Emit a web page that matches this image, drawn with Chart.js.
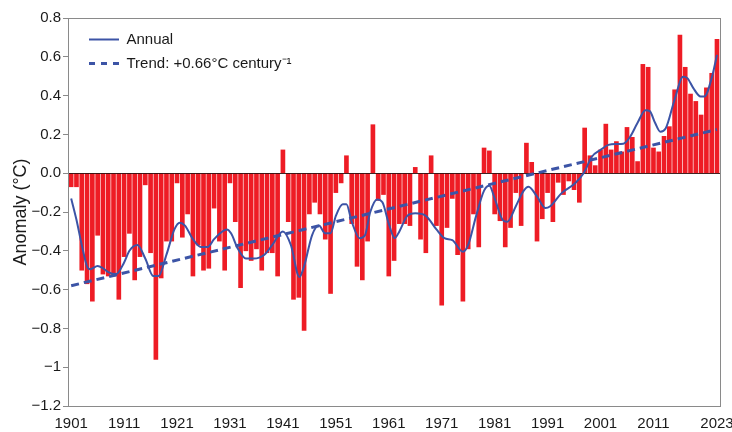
<!DOCTYPE html>
<html>
<head>
<meta charset="utf-8">
<title>Annual temperature anomaly, 1901–2023</title>
<script src="https://cdn.jsdelivr.net/npm/chart.js@4.4.1/dist/chart.umd.min.js"></script>
<style>
  html, body { margin: 0; padding: 0; background: #ffffff; }
  #wrap { width: 732px; height: 432px; }
</style>
</head>
<body>
<div id="wrap"><canvas id="chart" width="732" height="432"></canvas></div>
<script>
// Yearly anomalies (°C), one value per year starting in FIRST_YEAR
const FIRST_YEAR = 1901;
const anomaly = [
  -0.07, -0.07, -0.50, -0.57, -0.66, -0.32, -0.52, -0.53, -0.53, -0.65,  // 1901-1910
  -0.43, -0.31, -0.55, -0.43, -0.06, -0.41, -0.96, -0.54, -0.35, -0.35,  // 1911-1920
  -0.05, -0.33, -0.21, -0.53, -0.37, -0.50, -0.49, -0.18, -0.35, -0.50,  // 1921-1930
  -0.05, -0.25, -0.59, -0.40, -0.45, -0.39, -0.50, -0.41, -0.41, -0.53,  // 1931-1940
   0.12, -0.25, -0.65, -0.64, -0.81, -0.21, -0.15, -0.21, -0.34, -0.62,  // 1941-1950
  -0.10, -0.05,  0.09, -0.26, -0.48, -0.55, -0.35,  0.25, -0.14, -0.11,  // 1951-1960
  -0.53, -0.45, -0.26, -0.26, -0.27,  0.03, -0.34, -0.41,  0.09, -0.27,  // 1961-1970
  -0.68, -0.28, -0.13, -0.42, -0.66, -0.39, -0.21, -0.38,  0.13,  0.115, // 1971-1980
  -0.21, -0.245,-0.38, -0.28, -0.10, -0.27,  0.155, 0.056,-0.35, -0.235, // 1981-1990
  -0.10, -0.25, -0.047,-0.11, -0.04, -0.085,-0.15,  0.233, 0.09,  0.039, // 1991-2000
   0.12,  0.253, 0.12,  0.163, 0.11,  0.236, 0.185, 0.06,  0.561, 0.546, // 2001-2010
   0.13,  0.11,  0.19,  0.24,  0.43,  0.712, 0.546, 0.408, 0.37,  0.30,  // 2011-2020
   0.44,  0.515, 0.69                                                    // 2021-2023
];
const years = anomaly.map((_, i) => FIRST_YEAR + i);

// Smoothed annual curve, sampled at its turning points and shoulders
const annualYears = [
  1901, 1902, 1903, 1904, 1904.6, 1906, 1907, 1908, 1909.5, 1911, 1912, 1913.5,
  1915, 1916.5, 1917.5, 1919, 1920.5, 1921.5, 1922.5, 1924, 1925.5, 1926.8,
  1928, 1930.4, 1931.2, 1932.5, 1934, 1935.5, 1937.5, 1939, 1941, 1942.5,
  1944.1, 1945, 1946.5, 1947.8, 1949, 1950, 1951, 1952.3, 1953, 1954, 1955.5,
  1956.5, 1957.5, 1958.8, 1959.8, 1961, 1962.1, 1963, 1964.5, 1966, 1968,
  1970, 1971.5, 1973, 1975, 1976, 1977.5, 1979, 1980, 1981, 1982.5, 1983.4,
  1985, 1986.5, 1987.4, 1989, 1990.6, 1991.5, 1993.6, 1996.2, 1997.8, 1999.4,
  2001, 2002.5, 2004, 2005.3, 2006.6, 2008, 2009.5, 2010.3, 2011.3, 2012.3,
  2013.3, 2015, 2016.6, 2017.4, 2018.5, 2019.9, 2020.6, 2022, 2023
];
const annualValues = [
  -0.13, -0.24, -0.37, -0.48, -0.495, -0.478, -0.49, -0.51, -0.52, -0.46, -0.40, -0.37,
  -0.44, -0.53, -0.53, -0.42, -0.29, -0.255, -0.27, -0.34, -0.38, -0.38,
  -0.34, -0.29, -0.31, -0.39, -0.44, -0.44, -0.42, -0.37, -0.30, -0.37,
  -0.535, -0.48, -0.32, -0.27, -0.31, -0.31, -0.22, -0.16, -0.16, -0.25, -0.335,
  -0.32, -0.20, -0.135, -0.15, -0.26, -0.335, -0.30, -0.22, -0.207, -0.22,
  -0.29, -0.335, -0.345, -0.405, -0.37, -0.22, -0.09, -0.065, -0.13, -0.24, -0.25,
  -0.17, -0.09, -0.07, -0.12, -0.18, -0.17, -0.104, -0.052, 0.0, 0.086,
  0.12, 0.146, 0.15, 0.152, 0.188, 0.26, 0.325, 0.32, 0.26, 0.214,
  0.23, 0.38, 0.497, 0.49, 0.44, 0.395, 0.395, 0.49, 0.61
];

// Linear trend: value at its first year and the stated rate per century
const TREND_PER_CENTURY = 0.66;
const TREND_START = -0.58;
const trendYears = [1901, 2023];

const xTickYears = [1901, 1911, 1921, 1931, 1941, 1951, 1961, 1971, 1981, 1991, 2001, 2011, 2023];

const FONT = "'Liberation Sans Narrow', 'Arial Narrow', 'Liberation Sans', Arial, sans-serif";
const TEXT = '#1a1a1a';
const AXIS = '#8a8a8a';
const BLUE = '#3c54a6';
const RED = '#ee1c25';

const barPoints = years.map((y, i) => ({ x: y, y: anomaly[i] }));
const annualPoints = annualYears.map((y, i) => ({ x: y, y: annualValues[i] }));
const trendPoints = trendYears.map(y => ({
  x: y,
  y: TREND_START + TREND_PER_CENTURY * (y - trendYears[0]) / 100
}));

function fmtY(v) {
  const r = Math.round(v * 10) / 10;
  if (r === 0) return '0.0';
  const s = Number.isInteger(r) ? String(Math.abs(r)) : Math.abs(r).toFixed(1);
  return (r < 0 ? '\u2212' : '') + s;
}

// Frame round the plot area, legend placement and the dark zero line over the bars
const framePlugin = {
  id: 'frame',
  beforeDraw(chart) {
    const lg = chart.legend;
    if (lg) {
      lg.left = chart.chartArea.left + 12;
      lg.top = chart.chartArea.top + 5;
    }
  },
  afterDatasetDraw(chart, args) {
    if (args.index !== 0) return;
    const { ctx, chartArea } = chart;
    const y0 = Math.round(chart.scales.y.getPixelForValue(0)) + 0.5;
    ctx.save();
    ctx.strokeStyle = 'rgba(45, 10, 10, 0.9)';
    ctx.lineWidth = 1.2;
    ctx.beginPath();
    ctx.moveTo(chartArea.left, y0);
    ctx.lineTo(chartArea.right, y0);
    ctx.stroke();
    ctx.restore();
  },
  afterDraw(chart) {
    const { ctx, chartArea: a } = chart;
    ctx.save();
    ctx.strokeStyle = AXIS;
    ctx.lineWidth = 1;
    ctx.strokeRect(Math.round(a.left) + 0.5, Math.round(a.top) + 0.5,
                   Math.round(a.right - a.left), Math.round(a.bottom - a.top));
    ctx.restore();
  }
};

new Chart(document.getElementById('chart'), {
  type: 'bar',
  data: {
    datasets: [
      {
        type: 'bar',
        label: 'Yearly anomaly',
        data: barPoints,
        backgroundColor: RED,
        borderWidth: 0,
        barThickness: 4,
        order: 3
      },
      {
        type: 'line',
        label: 'Annual',
        data: annualPoints,
        borderColor: BLUE,
        backgroundColor: BLUE,
        borderWidth: 2,
        pointRadius: 0,
        cubicInterpolationMode: 'monotone',
        fill: false,
        order: 1
      },
      {
        type: 'line',
        label: 'Trend: +0.66°C century\u207B\u00B9',
        data: trendPoints,
        borderColor: BLUE,
        backgroundColor: BLUE,
        borderWidth: 3,
        borderDash: [8, 5],
        pointRadius: 0,
        fill: false,
        order: 2
      }
    ]
  },
  options: {
    responsive: false,
    animation: false,
    devicePixelRatio: 1,
    layout: { padding: { top: 18, right: 12, left: 0, bottom: 0 } },
    scales: {
      x: {
        type: 'linear',
        min: 1900.4,
        max: 2023.57,
        offset: false,
        afterBuildTicks(scale) {
          scale.ticks = xTickYears.map(v => ({ value: v }));
        },
        afterFit(scale) {
          scale.height = 26;
          scale.paddingLeft = 0;
          scale.paddingRight = 0;
        },
        grid: { display: false, drawTicks: false },
        border: { display: false },
        ticks: {
          autoSkip: false,
          maxRotation: 0,
          minRotation: 0,
          padding: 9,
          color: TEXT,
          font: { family: FONT, size: 15 },
          callback: v => String(v)
        }
      },
      y: {
        min: -1.2,
        max: 0.8,
        afterFit(scale) {
          scale.width = 68;
          scale.paddingTop = 0;
          scale.paddingBottom = 0;
        },
        ticks: {
          stepSize: 0.2,
          padding: 2,
          color: TEXT,
          font: { family: FONT, size: 15 },
          callback: v => fmtY(v)
        },
        grid: {
          drawOnChartArea: false,
          drawTicks: true,
          tickLength: 5,
          color: AXIS
        },
        border: { display: false },
        title: {
          display: true,
          text: 'Anomaly (°C)',
          color: TEXT,
          font: { family: FONT, size: 18 },
          padding: { top: 10, bottom: 0 }
        }
      }
    },
    plugins: {
      tooltip: { enabled: false },
      legend: {
        position: 'chartArea',
        align: 'start',
        labels: {
          filter: item => item.datasetIndex !== 0,
          generateLabels(chart) {
            const items = Chart.defaults.plugins.legend.labels.generateLabels(chart);
            items.forEach(it => {
              const ds = chart.data.datasets[it.datasetIndex];
              it.lineDash = ds.borderDash ? [6, 6] : [];
              it.lineWidth = ds.borderWidth;
              it.strokeStyle = ds.borderColor;
            });
            return items;
          },
          sort: (a, b) => a.datasetIndex - b.datasetIndex,
          usePointStyle: true,
          pointStyle: 'line',
          pointStyleWidth: 30,
          padding: 9,
          color: TEXT,
          font: { family: FONT, size: 15 }
        }
      }
    }
  },
  plugins: [framePlugin]
});
</script>
</body>
</html>
